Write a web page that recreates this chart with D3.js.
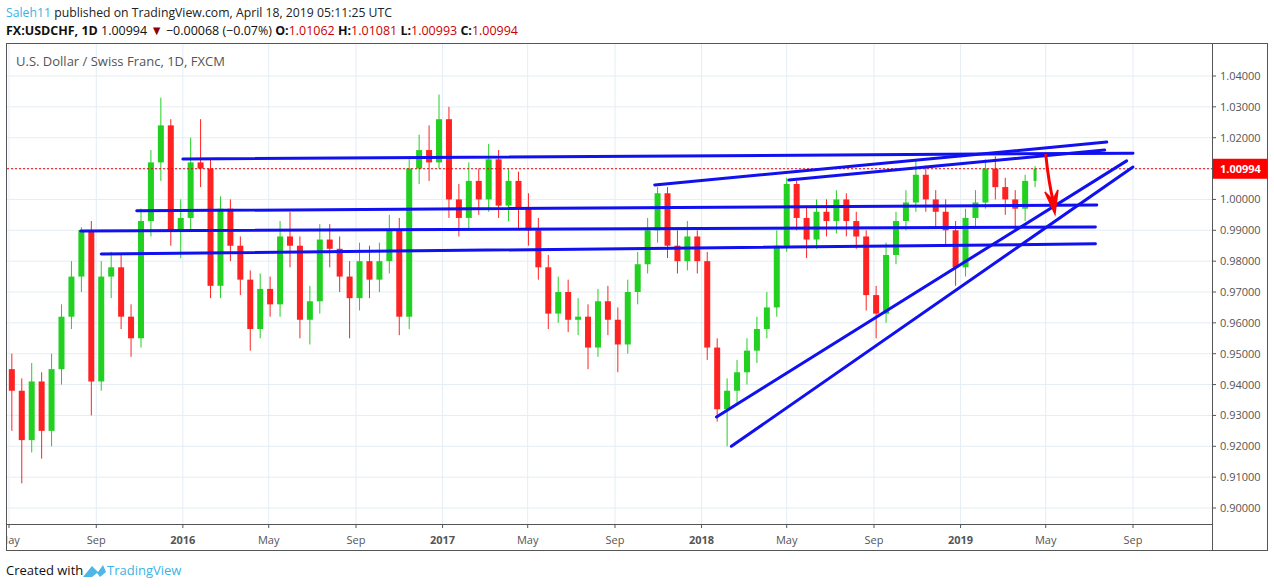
<!DOCTYPE html>
<html><head><meta charset="utf-8">
<script src="https://cdn.jsdelivr.net/npm/d3@7"></script>
<style>body{margin:0;background:#fff;font-family:"Open Sans",Verdana,sans-serif}</style>
</head><body><svg id="c" width="1274" height="588"></svg>
<script>
// ~2-week candles, start 2015-05-05, step 14 days
const startDate = "2015-05-05", stepDays = 14;
const opens  = [.945,.938,.922,.941,.925,.945,.962,.975,.990,.941,.975,.978,.962,.955,.993,1.012,1.024,.990,.994,1.012,1.010,.972,.997,.985,.974,.958,.971,.966,.988,.985,.961,.967,.987,.984,.975,.968,.980,.974,.980,.990,.962,1.010,1.016,1.012,1.026,1.000,.994,1.006,1.000,1.013,.998,1.006,.997,.990,.978,.963,.970,.961,.962,.952,.967,.961,.953,.970,.979,.990,1.002,.985,.980,.988,.980,.952,.932,.938,.944,.951,.958,.965,.985,1.005,.994,.987,.996,.993,1.000,.993,.988,.969,.963,.982,.993,.999,1.008,1.000,.996,.990,.978,.994,.999,1.010,1.004,1.000,.997,1.006];
const closes = [.938,.922,.941,.925,.945,.962,.975,.990,.941,.975,.978,.962,.955,.993,1.012,1.024,.990,.994,1.012,1.010,.972,.997,.985,.974,.958,.971,.966,.988,.985,.961,.967,.987,.984,.975,.968,.980,.974,.980,.990,.962,1.010,1.016,1.012,1.026,1.000,.994,1.006,1.000,1.013,.998,1.006,.997,.990,.978,.963,.970,.961,.962,.952,.967,.961,.953,.970,.979,.990,1.002,.985,.980,.988,.980,.952,.932,.938,.944,.951,.958,.965,.985,1.005,.994,.987,.996,.993,1.000,.993,.988,.969,.963,.982,.993,.999,1.008,1.000,.996,.990,.978,.994,.999,1.010,1.004,1.000,.997,1.006,1.00994];
const highs  = [.950,.942,.947,.944,.950,.966,.980,.991,.993,.980,.983,.982,.966,.997,1.016,1.033,1.026,1.000,1.020,1.026,1.013,1.001,1.000,.988,.977,.976,.975,.993,.996,.988,.972,.992,.992,.988,.980,.986,.985,.986,.995,.994,1.013,1.021,1.024,1.034,1.030,1.005,1.012,1.010,1.018,1.016,1.010,1.009,1.002,.994,.982,.975,.974,.968,.966,.971,.972,.965,.974,.983,.994,1.004,1.004,.990,.993,.990,.983,.955,.942,.948,.955,.962,.970,.990,1.007,1.006,.998,1.000,1.000,1.003,1.002,.996,.990,.972,.986,.996,1.003,1.013,1.011,1.003,1.000,.993,.997,1.003,1.013,1.014,1.007,1.003,1.008,1.01081];
const lows   = [.925,.908,.918,.916,.920,.940,.958,.970,.930,.938,.968,.958,.949,.952,.988,1.006,.985,.981,.990,1.004,.968,.968,.980,.969,.951,.955,.962,.962,.978,.955,.953,.963,.978,.970,.955,.964,.968,.970,.976,.956,.958,1.005,1.006,1.010,.994,.988,.990,.995,.996,.994,.993,.990,.985,.974,.958,.960,.957,.956,.945,.949,.956,.944,.950,.966,.976,.986,.981,.976,.977,.976,.948,.928,.920,.934,.940,.947,.955,.962,.983,.990,.981,.984,.988,.989,.988,.984,.964,.955,.960,.979,.990,.996,.996,.991,.985,.972,.975,.991,.997,1.000,.995,.990,.993,1.004];
const yTicks = [0.90,0.91,0.92,0.93,0.94,0.95,0.96,0.97,0.98,0.99,1.00,1.01,1.02,1.03,1.04];
const xTicks = ["2015-05-01","2015-09-01","2016-01-01","2016-05-01","2016-09-01","2017-01-01","2017-05-01","2017-09-01","2018-01-01","2018-05-01","2018-09-01","2019-01-01","2019-05-01","2019-09-01"];
const xTickLabels = ["May","Sep","2016","May","Sep","2017","May","Sep","2018","May","Sep","2019","May","Sep"];
// trend lines: [date1, price1, date2, price2]
const trendLines = [
 ["2016-01-01",1.0131,"2019-09-01",1.0150],
 ["2015-09-08",0.9823,"2019-07-10",0.9856],
 ["2015-08-10",0.9898,"2019-07-10",0.9911],
 ["2015-10-28",0.9963,"2019-07-12",0.9982],
 ["2017-10-27",1.0047,"2019-07-26",1.0186],
 ["2018-05-04",1.0063,"2019-07-23",1.0160],
 ["2018-01-22",0.9295,"2019-08-23",1.0125],
 ["2018-02-12",0.9200,"2019-09-01",1.0105]
];
const arrow = ["2019-05-01",1.0147,"2019-05-14",0.9953];
const lastPrice = 1.00994;

const P = d3.timeParse("%Y-%m-%d");
const svg = d3.select("#c");
const L=7,R=1212,T=44,B=524;
const x = d3.scaleTime().domain([P("2015-05-01"),P("2019-09-01")]).range([9,1133]);
const y = d3.scaleLinear().domain([0.90,1.04]).range([508,76]);

// header
const h1 = svg.append("text").attr("x",6).attr("y",17).attr("font-size",13).attr("fill","#222")
 .attr("textLength",386).attr("lengthAdjust","spacingAndGlyphs");
h1.append("tspan").attr("fill","#3bb3e4").text("Saleh11");
h1.append("tspan").text(" published on TradingView.com, April 18, 2019 05:11:25 UTC");
const h2 = svg.append("text").attr("x",6).attr("y",35).attr("font-size",13).attr("fill","#111")
 .attr("textLength",512).attr("lengthAdjust","spacingAndGlyphs");
h2.append("tspan").attr("font-weight","bold").text("FX:USDCHF, 1D");
h2.append("tspan").text("  1.00994 ");
h2.append("tspan").attr("fill","#8b0000").text("▼");
h2.append("tspan").text(" −0.00068 (−0.07%) ");
[["O:","1.01062"],["H:","1.01081"],["L:","1.00993"],["C:","1.00994"]].forEach(([k,v],i)=>{
 h2.append("tspan").attr("font-weight","bold").text(k);
 h2.append("tspan").attr("fill","#c00").text(v+(i<3?" ":""));
});

// grid
const g = svg.append("g");
yTicks.forEach(t=>g.append("line").attr("x1",L).attr("x2",R).attr("y1",y(t)).attr("y2",y(t)).attr("stroke","#e4edf4"));
xTicks.forEach(t=>g.append("line").attr("x1",x(P(t))).attr("x2",x(P(t))).attr("y1",T).attr("y2",B).attr("stroke","#e4edf4"));
// frame
svg.append("rect").attr("x",6.5).attr("y",43.5).attr("width",1261).attr("height",507).attr("fill","none").attr("stroke","#555");
svg.append("line").attr("x1",R+0.5).attr("x2",R+0.5).attr("y1",43).attr("y2",551).attr("stroke","#555");
svg.append("line").attr("x1",6).attr("x2",R).attr("y1",B+0.5).attr("y2",B+0.5).attr("stroke","#555");
svg.append("text").attr("x",16).attr("y",66).attr("font-size",13).attr("fill","#555").text("U.S. Dollar / Swiss Franc, 1D, FXCM");

// y axis labels
yTicks.forEach(t=>{
 svg.append("line").attr("x1",R).attr("x2",R+4).attr("y1",y(t)).attr("y2",y(t)).attr("stroke","#555");
 svg.append("text").attr("x",1220).attr("y",y(t)+4).attr("font-size",11).attr("fill","#555").text(t.toFixed(5));
});
// x axis labels
svg.append("defs").append("clipPath").attr("id","cx").append("rect").attr("x",L).attr("y",0).attr("width",R-L).attr("height",588);
xTicks.forEach((t,i)=>{
 const xx=x(P(t));
 svg.append("line").attr("x1",xx).attr("x2",xx).attr("y1",B).attr("y2",B+4).attr("stroke","#555");
 svg.append("text").attr("clip-path","url(#cx)").attr("x",xx).attr("y",544).attr("text-anchor","middle").attr("font-size",11)
  .attr("font-weight",/^\d/.test(xTickLabels[i])?"bold":"normal").attr("fill","#555").text(xTickLabels[i]);
});

// candles
const cg = svg.append("g");
const d0 = P(startDate);
closes.forEach((c,i)=>{
 const d = d3.timeDay.offset(d0, i*stepDays);
 const xx = x(d), o = opens[i];
 const col = c>=o ? "#22d022" : "#f22";
 cg.append("line").attr("x1",xx).attr("x2",xx).attr("y1",y(highs[i])).attr("y2",y(lows[i])).attr("stroke",col).attr("stroke-width",1);
 const w = i===closes.length-1?3:6;
 cg.append("rect").attr("x",xx-w/2).attr("width",w).attr("y",y(Math.max(o,c))).attr("height",Math.max(1,Math.abs(y(o)-y(c)))).attr("fill",col);
});

// last price line
svg.append("line").attr("x1",L).attr("x2",R).attr("y1",y(lastPrice)).attr("y2",y(lastPrice)).attr("stroke","#e00").attr("stroke-dasharray","2,2");

// trend lines
trendLines.forEach(l=>svg.append("line").attr("x1",x(P(l[0]))).attr("y1",y(l[1])).attr("x2",x(P(l[2]))).attr("y2",y(l[3]))
 .attr("stroke","#1010f0").attr("stroke-width",3).attr("stroke-linecap","round"));

// red arrow
const ax1=x(P(arrow[0])),ay1=y(arrow[1]),ax2=x(P(arrow[2])),ay2=y(arrow[3]);
svg.append("path").attr("d",`M${ax1},${ay1} Q${ax1+3},${(ay1+ay2)/2} ${ax2-1},${ay2-10}`).attr("stroke","#f00").attr("stroke-width",3).attr("fill","none");
svg.append("path").attr("d",`M${ax2-10},${ay2-22} L${ax2},${ay2} L${ax2+3},${ay2-24} L${ax2-2},${ay2-14}Z`).attr("fill","#f00").attr("stroke","#f00").attr("stroke-width",1.5);

// price label
svg.append("rect").attr("x",R+1).attr("y",y(lastPrice)-10).attr("width",54).attr("height",20).attr("fill","#f00");
svg.append("text").attr("x",1220).attr("y",y(lastPrice)+4).attr("font-size",11).attr("font-weight","bold").attr("fill","#fff").text("1.00994");

// footer
svg.append("text").attr("x",6).attr("y",575).attr("font-size",13).attr("fill","#111").text("Created with");
svg.append("path").attr("d","M83,577 L92,566 L98,572 L103,565 L106,572 L100,577 L97,573 L92,577Z").attr("fill","#4fb6e6");
svg.append("text").attr("x",107).attr("y",575).attr("font-size",13).attr("fill","#3bb3e4").text("TradingView");
</script></body></html>
